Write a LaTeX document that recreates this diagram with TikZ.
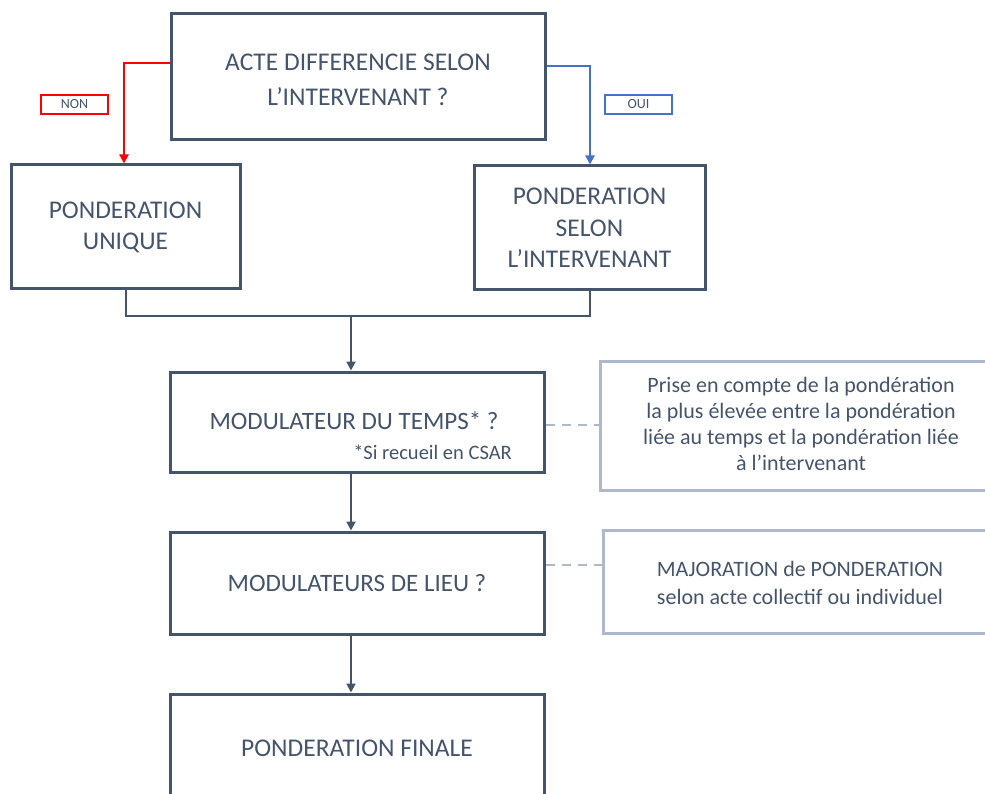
\documentclass[tikz,border=0pt]{standalone}
\usepackage{fontspec}
\setmainfont{Carlito}
\usetikzlibrary{arrows.meta}
\definecolor{slate}{HTML}{44546A}
\definecolor{lightslate}{HTML}{ADB9CA}
\definecolor{ouiblue}{HTML}{4472C4}
\begin{document}
\begin{tikzpicture}[x=1pt,y=-1pt,
  mainbox/.style={draw=slate,line width=3pt,text=slate,align=center,inner sep=0pt},
  bigtext/.style={text=slate,align=center,inner sep=0pt},
  notebox/.style={draw=lightslate,line width=3pt,inner sep=0pt},
  notetext/.style={text=slate,align=center,inner sep=0pt,font=\fontsize{22}{26}\selectfont},
  tagbox/.style={line width=2pt,text=slate,inner sep=0pt,font=\fontsize{14}{16}\selectfont},
  conn/.style={draw=slate,line width=2pt},
  arr/.style={conn,-{Triangle[length=9pt,width=9pt]}},
  dashconn/.style={draw=lightslate,line width=2pt,dash pattern=on 9pt off 7pt}
]
\useasboundingbox (0,0) rectangle (985,794);
\clip (0,0) rectangle (985,794);
% boxes
\node[mainbox,minimum width=374pt,minimum height=126pt] (top) at (358,77) {};
\node[bigtext,font=\fontsize{25.5}{35}\selectfont] (topt) at (358,80) {ACTE DIFFERENCIE SELON\\L’INTERVENANT ?};
\node[mainbox,minimum width=229pt,minimum height=124pt,font=\fontsize{25.5}{31}\selectfont] (uniq) at (125.5,227) {PONDERATION\\UNIQUE};
\node[mainbox,minimum width=231pt,minimum height=124pt,font=\fontsize{25.5}{31.5}\selectfont] (selon) at (589.5,228) {PONDERATION\\SELON\\L’INTERVENANT};
\node[mainbox,minimum width=374pt,minimum height=100pt] (temps) at (357,422) {};
\node[bigtext,font=\fontsize{25}{30}\selectfont] (tempst) at (354,421) {MODULATEUR DU TEMPS* ?};
\node[text=slate,font=\fontsize{20.5}{22}\selectfont,anchor=east,inner sep=0pt] (csar) at (512,452) {*Si recueil en CSAR};
\node[mainbox,minimum width=374pt,minimum height=102pt,font=\fontsize{25}{30}\selectfont] (lieu) at (357,583) {MODULATEURS DE LIEU ?};
\node[mainbox,minimum width=374pt,minimum height=140pt] (final) at (357,764) {};
\node[bigtext,font=\fontsize{25.5}{30}\selectfont] (finalt) at (357,748) {PONDERATION FINALE};
\node[notebox,minimum width=420pt,minimum height=129pt,anchor=north west] (note1) at (599,360) {};
\node[notetext] (note1t) at (801,424) {Prise en compte de la pondération\\la plus élevée entre la pondération\\liée au temps et la pondération liée\\à l’intervenant};
\node[notebox,minimum width=420pt,minimum height=103pt,anchor=north west] (note2) at (602,529) {};
\node[notetext,font=\fontsize{22}{28}\selectfont] (note2t) at (800,583) {MAJORATION de PONDERATION\\selon acte collectif ou individuel};
% tags
\node[tagbox,draw=red,minimum width=67pt,minimum height=19pt] (non) at (74.5,104.5) {NON};
\node[tagbox,draw=ouiblue,minimum width=67pt,minimum height=19pt] (oui) at (638.5,104.5) {OUI};
% connectors
\draw[line width=2pt,draw=red,-{Triangle[length=9pt,width=9pt]}] (top.west |- 0,63) -- (124,63) -- (uniq.north -| 124,0);
\draw[line width=2pt,draw=ouiblue,-{Triangle[length=9pt,width=9pt]}] (top.east |- 0,66) -- (590,66) -- (selon.north -| 590,0);
\coordinate (junc) at (351,316);
\draw[conn] (uniq.south) |- (junc) -| (selon.south);
\draw[arr] (junc) -- (temps.north -| junc);
\draw[arr] (temps.south -| junc) -- (lieu.north -| junc);
\draw[arr] (lieu.south -| junc) -- (final.north -| junc);
\draw[dashconn] (temps.east |- 0,425) -- (note1.west |- 0,425);
\draw[dashconn] (lieu.east |- 0,565) -- (note2.west |- 0,565);
\end{tikzpicture}
\end{document}
